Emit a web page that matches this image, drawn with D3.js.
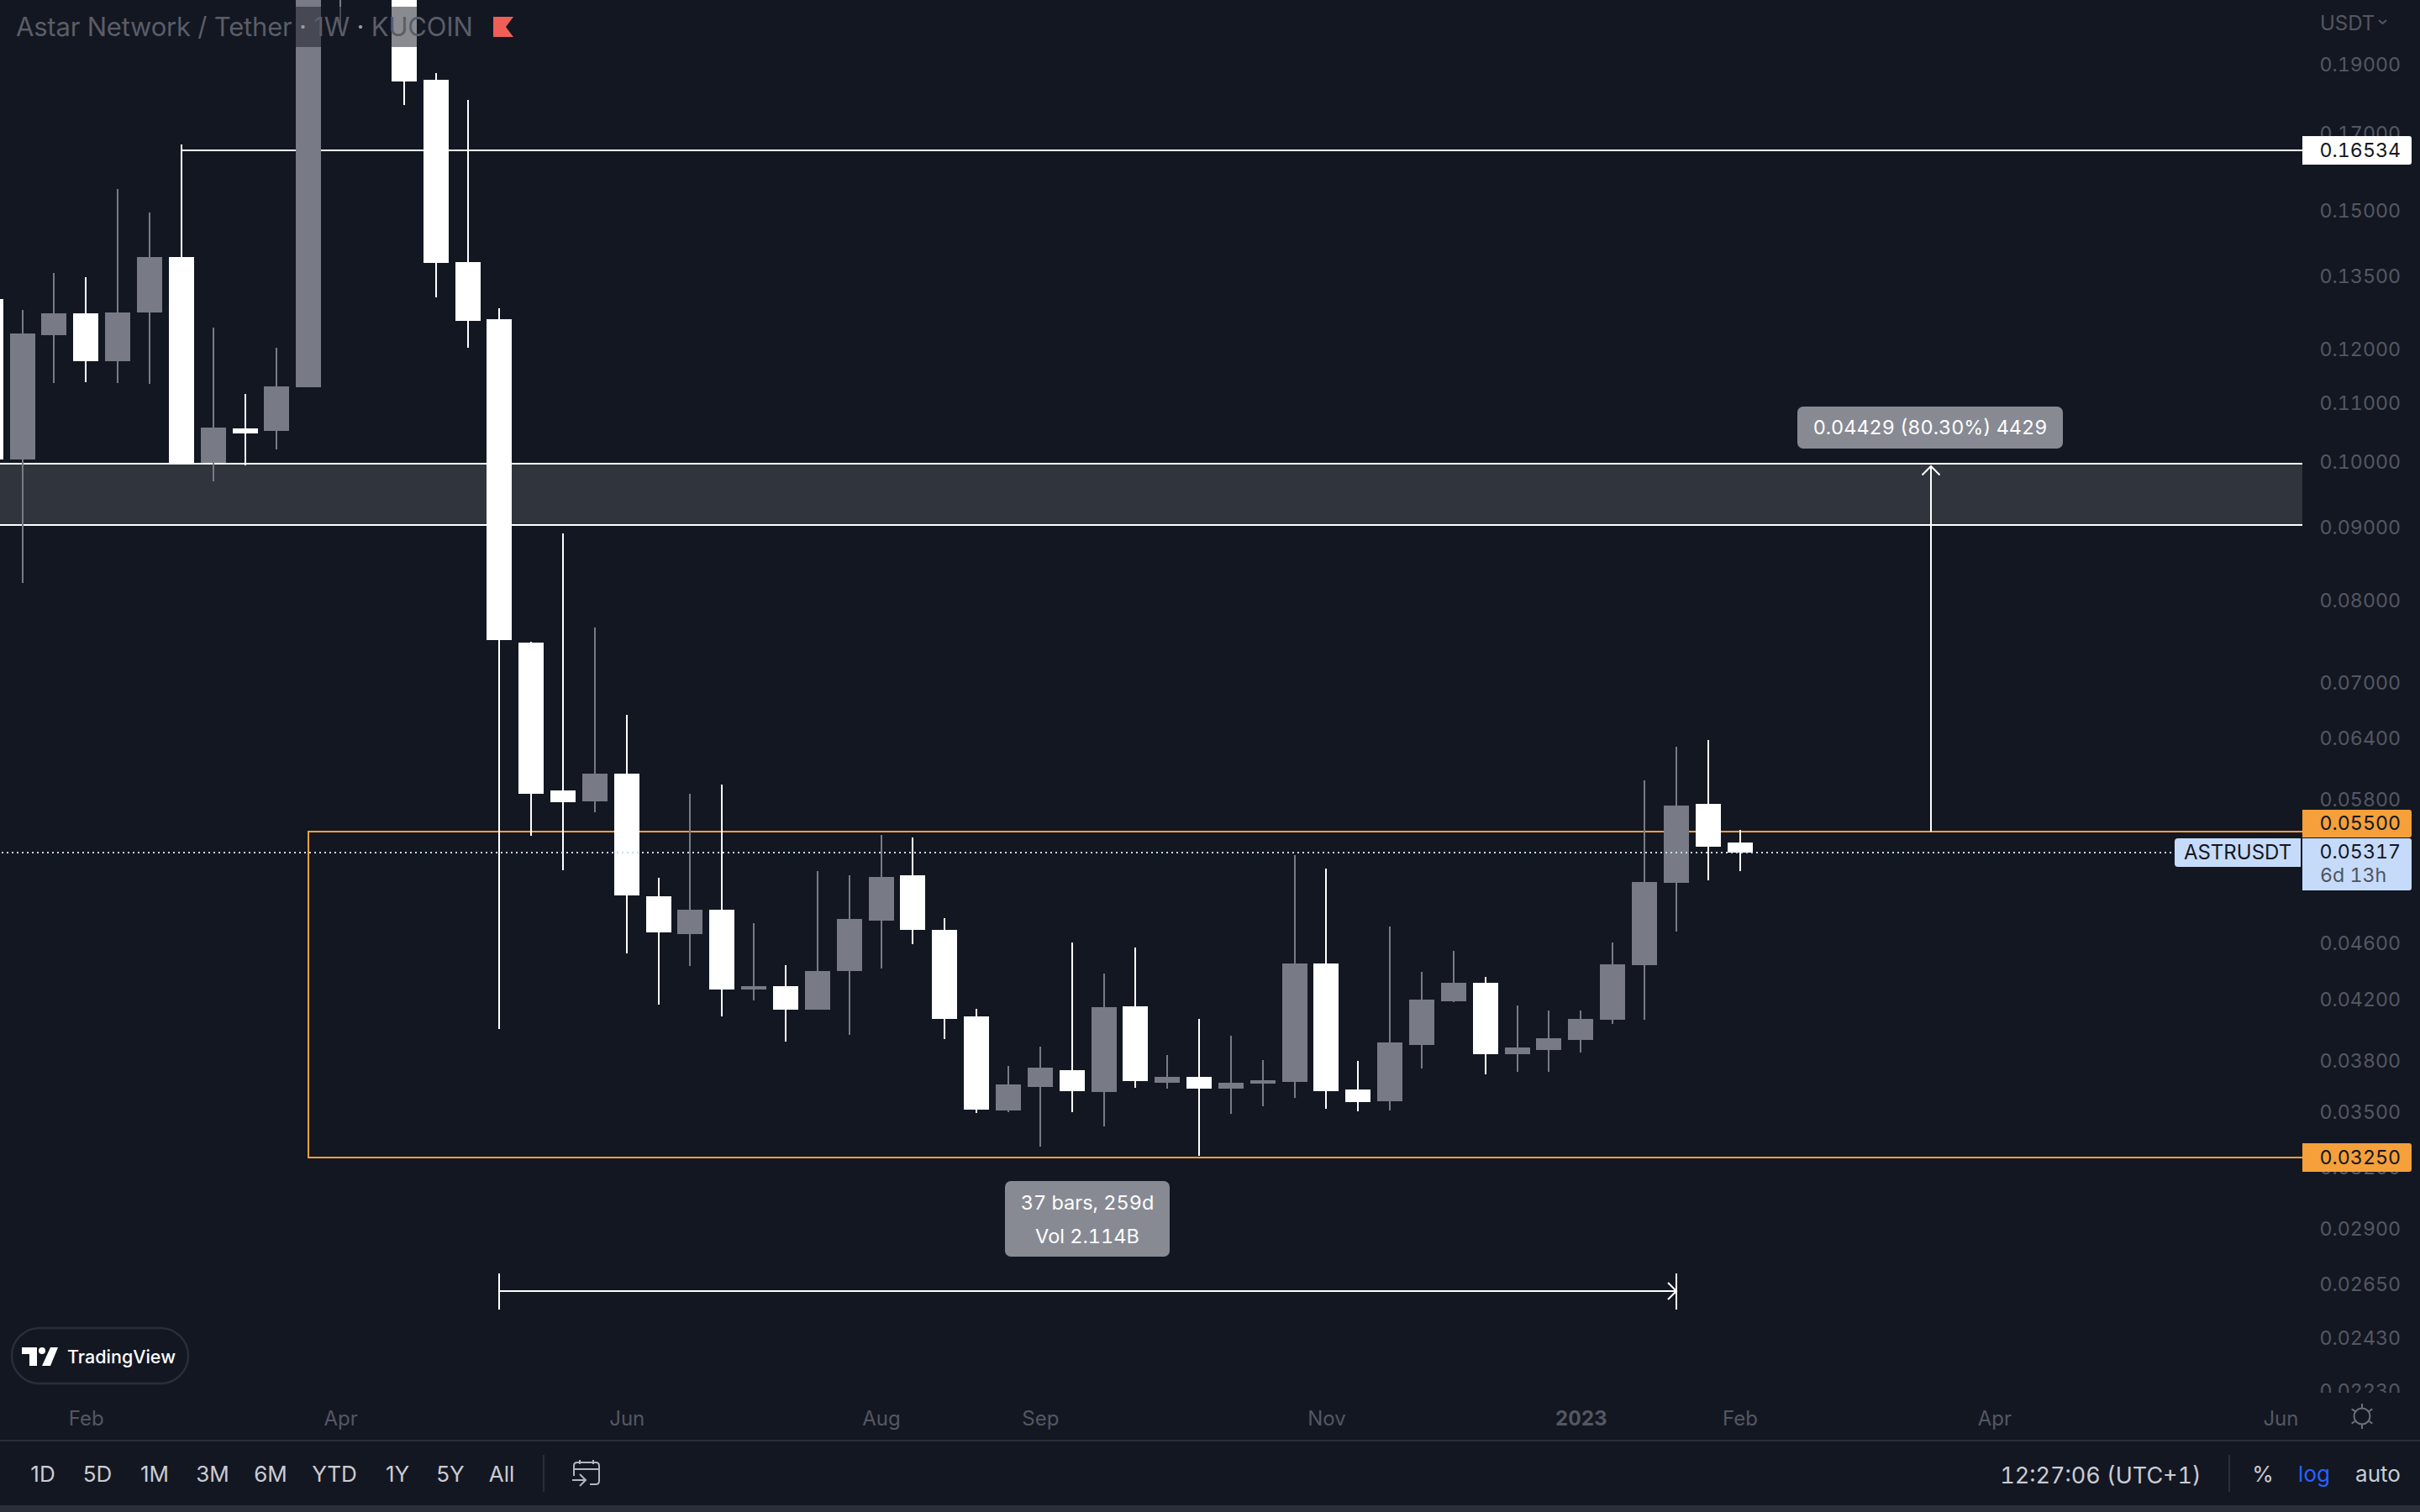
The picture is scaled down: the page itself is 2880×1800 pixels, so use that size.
<!DOCTYPE html>
<html>
<head>
<meta charset="utf-8">
<script src="https://d3js.org/d3.v7.min.js"></script>
<style>
html,body{margin:0;padding:0;background:#131722;overflow:hidden}
svg{display:block}
text{font-family:Inter,"Noto Sans",sans-serif;font-feature-settings:"tnum"}
</style>
</head>
<body>
<svg id="chart" width="2880" height="1800"></svg>
<script>
// ---------- data ----------
const barIndex = d3.range(-1, 55);
const opens  = [.13001,.10039,.12264,.12704,.11759,.12721,.13913,.09978,.10549,.10506,.11274,.22249,.31661,.27644,.18525,.13800,.12584,.07464,.05878,.05775,.06040,.04954,.04661,.04848,.04262,.04285,.04125,.04391,.04763,.05125,.04693,.04081,.03505,.03641,.03741,.03612,.04148,.03666,.03701,.03631,.03661,.03671,.04445,.03626,.03558,.03897,.04181,.04308,.03839,.03865,.03928,.04058,.04433,.05063,.05752,.05404];
const highs  = [.13286,.12773,.13559,.13467,.15529,.14951,.16687,.12414,.11153,.12017,.22861,.33884,.35291,.29584,.18740,.17932,.12808,.07474,.08903,.07648,.06642,.05104,.05846,.05934,.04744,.04433,.05160,.05125,.05470,.05448,.04783,.04131,.03767,.03886,.04598,.04373,.04561,.03834,.04064,.03955,.03803,.05295,.05181,.03797,.04718,.04385,.04536,.04349,.04153,.04120,.04120,.04598,.05975,.06308,.06377,.05515];
const lows   = [.09857,.08218,.11351,.11366,.11351,.11336,.09965,.09685,.09938,.10197,.11274,.20015,.22861,.17786,.13036,.12017,.03998,.05463,.05167,.05674,.04518,.04159,.04427,.04081,.04187,.03918,.04125,.03961,.04409,.04586,.03934,.03491,.03496,.03307,.03496,.03416,.03636,.03631,.03258,.03486,.03529,.03577,.03515,.03501,.03505,.03751,.04176,.03716,.03731,.03731,.03849,.04031,.04058,.04680,.05084,.05160];
const closes = [.10033,.12297,.12704,.11759,.12721,.13913,.09965,.10563,.10464,.11290,.22249,.31661,.27644,.18475,.13782,.12550,.07494,.05846,.05767,.06040,.04961,.04674,.04848,.04262,.04285,.04125,.04391,.04776,.05111,.04693,.04064,.03510,.03656,.03756,.03616,.04142,.03676,.03701,.03631,.03666,.03681,.04445,.03616,.03553,.03913,.04193,.04308,.03839,.03881,.03939,.04064,.04439,.05070,.05736,.05367,.05317];

const priceTicks = [.19,.17,.15,.135,.12,.11,.10,.09,.08,.07,.064,.058,.046,.042,.038,.035,.032,.029,.0265,.0243,.0223];
const timeTickBars   = [2,10,19,27,32,41,49,54,62,71];
const timeTickLabels = ["Feb","Apr","Jun","Aug","Sep","Nov","2023","Feb","Apr","Jun"];
const rangeButtons   = ["1D","5D","1M","3M","6M","YTD","1Y","5Y","All"];
const rangeButtonX   = [51,116,184,253,322,398,473,536,597];

const rayLevel = .16534, rayStartBar = 5;
const zoneTop = .09965, zoneBottom = .0903;
const boxTop = .055, boxBottom = .0325, boxStartBar = 9;
const lastPrice = .05317;
const priceRangeBar = 60, priceRangeFrom = .055, priceRangeTo = .09929;
const dateRangeFromBar = 15, dateRangeToBar = 52, dateRangeLevel = .0325 * Math.exp(-159 / 737);

// ---------- layout ----------
const W = 2880, H = 1800, axisX = 2740;
const x = d3.scaleLinear().domain([0, 54]).range([26.6, 26.6 + 54 * 37.85]);
const y = d3.scaleLog().domain([.055, .0325]).range([990, 990 + 737 * Math.log(.055 / .0325)]);
const X = d => Math.round(x(d)), Y = d => Math.round(y(d));

const BG = "#131722", WHITE = "#ffffff", GRAY = "#787b86", ORANGE = "#f5a03a", BLUE = "#c6dbf9", BORDER = "#2a2e39";
const AXIS_TXT = "#545762";
const AXIS_SIZE = 23.2;

const svg = d3.select("#chart");
svg.append("rect").attr("width", W).attr("height", H).attr("fill", BG);
const defs = svg.append("defs");
defs.append("clipPath").attr("id", "axisClip").append("rect").attr("x", 2700).attr("y", 0).attr("width", 180).attr("height", 1658);

const hline = (g, p, x0, x1, col) => g.append("rect").attr("x", x0).attr("y", Y(p) - 1).attr("width", x1 - x0).attr("height", 2).attr("fill", col);
const vline = (g, xx, y0, y1, col) => g.append("rect").attr("x", xx - 1).attr("y", y0).attr("width", 2).attr("height", y1 - y0).attr("fill", col);

// ---------- price axis text (below labels) ----------
const axisG = svg.append("g").attr("clip-path", "url(#axisClip)")
  .append("g").attr("transform", "translate(2857,0)")
  .call(d3.axisRight(y).tickValues(priceTicks).tickFormat(d3.format(".5f")).tickSize(0).tickPadding(0));
axisG.select(".domain").remove();
axisG.selectAll("text").attr("text-anchor", "end").attr("x", 0).attr("dy", ".36em")
  .attr("font-size", AXIS_SIZE).attr("fill", AXIS_TXT).attr("font-family", 'Inter,sans-serif');

// ---------- drawings (under the candles) ----------
const draw = svg.append("g").attr("shape-rendering", "crispEdges");
draw.append("rect").attr("x", 0).attr("y", Y(zoneTop)).attr("width", axisX).attr("height", Y(zoneBottom) - Y(zoneTop)).attr("fill", "rgba(255,255,255,0.125)");
hline(draw, zoneTop, 0, axisX, WHITE);
hline(draw, zoneBottom, 0, axisX, WHITE);
hline(draw, rayLevel, X(rayStartBar), axisX, WHITE);
hline(draw, boxTop, X(boxStartBar), axisX, ORANGE);
hline(draw, boxBottom, X(boxStartBar), axisX, ORANGE);
vline(draw, X(boxStartBar), Y(boxTop) - 1, Y(boxBottom) + 1, ORANGE);
// price range arrow
vline(draw, X(priceRangeBar), Y(priceRangeTo), Y(priceRangeFrom), WHITE);
// date range arrow
hline(draw, dateRangeLevel, X(dateRangeFromBar), X(dateRangeToBar), WHITE);
vline(draw, X(dateRangeFromBar), Y(dateRangeLevel) - 21, Y(dateRangeLevel) + 22, WHITE);
vline(draw, X(dateRangeToBar), Y(dateRangeLevel) - 21, Y(dateRangeLevel) + 22, WHITE);
const heads = svg.append("g").attr("fill", "none").attr("stroke", WHITE).attr("stroke-width", 2);
heads.append("path").attr("d", `M${X(priceRangeBar)-10.5},${Y(priceRangeTo)+10.5}L${X(priceRangeBar)},${Y(priceRangeTo)}L${X(priceRangeBar)+10.5},${Y(priceRangeTo)+10.5}`);
heads.append("path").attr("d", `M${X(dateRangeToBar)-10},${Y(dateRangeLevel)-10}L${X(dateRangeToBar)},${Y(dateRangeLevel)}L${X(dateRangeToBar)-10},${Y(dateRangeLevel)+10}`);

// ---------- candles ----------
const bars = barIndex.map((b, i) => ({ b, o: opens[i], h: highs[i], l: lows[i], c: closes[i] }));
const candles = svg.append("g").attr("shape-rendering", "crispEdges");
const colorOf = d => d.c > d.o ? GRAY : WHITE;
candles.selectAll("rect.wick").data(bars).join("rect").attr("class", "wick")
  .attr("x", d => X(d.b) - 1).attr("width", 2)
  .attr("y", d => Y(d.h)).attr("height", d => Y(d.l) - Y(d.h)).attr("fill", colorOf);
candles.selectAll("rect.body").data(bars).join("rect").attr("class", "body")
  .attr("x", d => X(d.b) - 15).attr("width", 30)
  .attr("y", d => Y(Math.max(d.o, d.c))).attr("height", d => Math.max(2, Y(Math.min(d.o, d.c)) - Y(Math.max(d.o, d.c)))).attr("fill", colorOf);

// ---------- title ----------
svg.append("rect").attr("x", 12).attr("y", 8).attr("width", 610).attr("height", 48).attr("fill", BG).attr("opacity", .5);
const title = svg.append("text").attr("x", 19).attr("y", 32).attr("dy", ".36em").attr("font-size", 31).attr("letter-spacing", -0.2).attr("fill", "#5a5d68").style("font-feature-settings", "normal");
title.append("tspan").text("Astar Network / Tether ");
title.append("tspan").attr("fill", "#9a9ca5").text("·");
title.append("tspan").text(" 1W ");
title.append("tspan").attr("fill", "#9a9ca5").text("·");
title.append("tspan").text(" KUCOIN");
svg.append("path").attr("d", "M587,20H611L602,32L611,44H587Z").attr("fill", "#ef5f57");

// ---------- price range / date range labels ----------
const tag = (x0, y0, w, h, r, fill) => svg.append("rect").attr("x", x0).attr("y", y0).attr("width", w).attr("height", h).attr("rx", r).attr("fill", fill);
tag(2139, 484, 316, 50, 7, "#878a93");
svg.append("text").attr("x", 2297).attr("y", 509).attr("dy", ".36em").attr("text-anchor", "middle").attr("font-size", 23.4).attr("fill", "#fff").text("0.04429 (80.30%) 4429");
tag(1196, 1406, 196, 90, 7, "#878a93");
svg.append("text").attr("x", 1294).attr("y", 1432).attr("dy", ".36em").attr("text-anchor", "middle").attr("font-size", 23.5).attr("fill", "#fff").text("37 bars, 259d");
svg.append("text").attr("x", 1294).attr("y", 1472).attr("dy", ".36em").attr("text-anchor", "middle").attr("font-size", 23.5).attr("fill", "#fff").text("Vol 2.114B");

// ---------- last price line ----------
svg.append("line").attr("x1", 2).attr("x2", 2588).attr("y1", Y(lastPrice)).attr("y2", Y(lastPrice))
  .attr("stroke", BLUE).attr("stroke-width", 2).attr("stroke-dasharray", "2 4").attr("shape-rendering", "crispEdges");

// ---------- price labels ----------
const rightTag = (y0, h, fill) => svg.append("path")
  .attr("d", `M${axisX},${y0}H2867Q2870,${y0} 2870,${y0+3}V${y0+h-3}Q2870,${y0+h} 2867,${y0+h}H${axisX}Z`).attr("fill", fill);
const priceText = (t, yy, col) => svg.append("text").attr("x", 2857).attr("y", yy).attr("dy", ".36em").attr("text-anchor", "end").attr("font-size", AXIS_SIZE).attr("fill", col).text(t);
const fmt = d3.format(".5f");

rightTag(Y(rayLevel) - 17, 34, "#ffffff");
priceText(fmt(rayLevel), Y(rayLevel), "#131722");
rightTag(Y(boxBottom) - 17, 34, ORANGE);
priceText(fmt(boxBottom), Y(boxBottom), "#131722");
rightTag(964, 33, ORANGE);
priceText(fmt(boxTop), 980, "#131722");
rightTag(998, 62, BLUE);
priceText(fmt(lastPrice), Y(lastPrice) - 1, "#131722");
priceText("6d 13h", 1042, "#50535e").attr("text-anchor", "start").attr("x", 2761);
svg.append("path").attr("d", "M2738,998H2592Q2588,998 2588,1002V1028Q2588,1032 2592,1032H2738Z").attr("fill", BLUE);
svg.append("text").attr("x", 2663).attr("y", Y(lastPrice) - 1).attr("dy", ".36em").attr("text-anchor", "middle").attr("font-size", 24).attr("fill", "#131722").text("ASTRUSDT");

// currency
svg.append("text").attr("x", 2761).attr("y", 27).attr("dy", ".36em").attr("font-size", 24).attr("fill", AXIS_TXT).text("USDT");
svg.append("path").attr("d", "M2831,24L2835.5,28L2840,24").attr("fill", "none").attr("stroke", AXIS_TXT).attr("stroke-width", 2);

// ---------- time axis ----------
const xAxisG = svg.append("g").attr("transform", "translate(0,1688)")
  .call(d3.axisBottom(x).tickValues(timeTickBars).tickFormat((d, i) => timeTickLabels[i]).tickSize(0).tickPadding(0));
xAxisG.select(".domain").remove();
xAxisG.selectAll("text").attr("y", 0).attr("dy", ".36em").attr("font-size", 24).attr("fill", AXIS_TXT).attr("font-family", "Inter,sans-serif")
  .attr("font-weight", (d, i) => timeTickLabels[i] === "2023" ? 700 : 400);

// sun icon
const sun = svg.append("g").attr("transform", "translate(2811,1686)").attr("fill", "none").attr("stroke", "#6d707b").attr("stroke-width", 2);
sun.append("circle").attr("r", 9.5);
[90, 270, 35, 145, 215, 325].forEach(a => {
  const r = a * Math.PI / 180;
  sun.append("line").attr("x1", 10 * Math.cos(r)).attr("y1", 10 * Math.sin(r)).attr("x2", 15 * Math.cos(r)).attr("y2", 15 * Math.sin(r));
});

// ---------- bottom toolbar ----------
svg.append("rect").attr("x", 0).attr("y", 1714).attr("width", W).attr("height", 2).attr("fill", BORDER);
svg.append("rect").attr("x", 0).attr("y", 1792).attr("width", W).attr("height", 8).attr("fill", BORDER);
svg.append("g").selectAll("text").data(rangeButtons).join("text")
  .attr("x", (d, i) => rangeButtonX[i]).attr("y", 1755).attr("dy", ".36em").attr("text-anchor", "middle")
  .attr("font-size", 26).attr("fill", "#c9ccd4").style("font-feature-settings", "normal").text(d => d);
svg.append("rect").attr("x", 646).attr("y", 1732).attr("width", 2).attr("height", 44).attr("fill", BORDER);
svg.append("rect").attr("x", 2652).attr("y", 1732).attr("width", 2).attr("height", 44).attr("fill", BORDER);
// calendar icon
svg.append("path").attr("fill", "none").attr("stroke", "#b2b5be").attr("stroke-width", 2)
  .attr("d", "M683,1757V1745Q683,1741 687,1741H709Q713,1741 713,1745V1763Q713,1767 709,1767H702M683,1749H713M690,1738V1743M706,1738V1743M681,1762H697M690,1755L697,1762L690,1769");

svg.append("text").attr("x", 2500).attr("y", 1756).attr("dy", ".36em").attr("text-anchor", "middle").attr("font-size", 27).attr("fill", "#c9ccd4").text("12:27:06 (UTC+1)");
svg.append("text").attr("x", 2693).attr("y", 1755).attr("dy", ".36em").attr("text-anchor", "middle").attr("font-size", 26).attr("fill", "#c9ccd4").text("%");
svg.append("text").attr("x", 2754).attr("y", 1755).attr("dy", ".36em").attr("text-anchor", "middle").attr("font-size", 26).attr("fill", "#2962ff").text("log");
svg.append("text").attr("x", 2830).attr("y", 1755).attr("dy", ".36em").attr("text-anchor", "middle").attr("font-size", 26).attr("fill", "#c9ccd4").text("auto");

// ---------- TradingView badge ----------
svg.append("rect").attr("x", 14).attr("y", 1581).attr("width", 210).attr("height", 66).attr("rx", 33).attr("fill", BG).attr("stroke", BORDER).attr("stroke-width", 2.5);
const logo = svg.append("g").attr("fill", "#fff");
logo.append("path").attr("d", "M26,1604H44V1626H35V1612H26Z");
logo.append("circle").attr("cx", 50).attr("cy", 1608).attr("r", 4);
logo.append("path").attr("d", "M60,1604H69L60,1626H50Z");
svg.append("text").attr("x", 80).attr("y", 1615).attr("dy", ".36em").attr("font-size", 21.5).attr("font-weight", 500).attr("fill", "#fff").style("font-feature-settings", "normal").text("TradingView");
</script>
</body>
</html>
